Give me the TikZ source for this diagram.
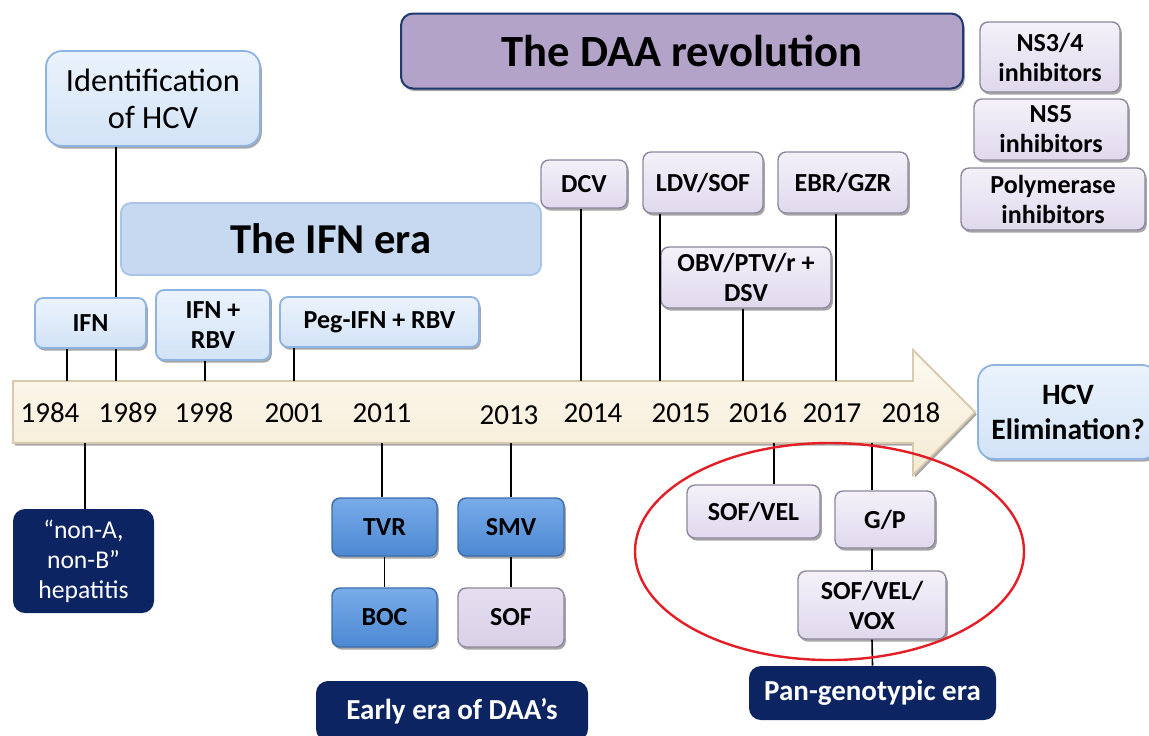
\documentclass[tikz,border=0pt]{standalone}
\usepackage{fontspec}
\setmainfont{Carlito}
\usetikzlibrary{shadows}

\definecolor{lbtop}{HTML}{EBF3FC}
\definecolor{lbbot}{HTML}{D2E3F6}
\definecolor{lbline}{HTML}{8DB3E2}
\definecolor{pptop}{HTML}{F4F1F9}
\definecolor{ppbot}{HTML}{E0D9ED}
\definecolor{ppline}{HTML}{8E889E}
\definecolor{sofpp}{HTML}{DAD0E8}
\definecolor{mbtop}{HTML}{78ACE9}
\definecolor{mbbot}{HTML}{4D88D2}
\definecolor{mbline}{HTML}{3B6DAA}
\definecolor{navy}{HTML}{0C2461}
\definecolor{daafill}{HTML}{B4A3C8}
\definecolor{daaline}{HTML}{1F3A6E}
\definecolor{erafill}{HTML}{C6D9F1}
\definecolor{eraline}{HTML}{A9C4E8}
\definecolor{arrtop}{HTML}{FEFAF1}
\definecolor{arrbot}{HTML}{F5EAD3}
\definecolor{arrline}{HTML}{D8CAAE}
\definecolor{ring}{HTML}{E41E26}

\begin{document}
\begin{tikzpicture}[x=0.5pt,y=-0.5pt,
        every node/.style={align=center,inner sep=1pt},
        sz/.style 2 args={minimum width=#1*0.5pt,minimum height=#2*0.5pt},
        shad/.style={drop shadow={shadow xshift=0.9pt,shadow yshift=-1.3pt,opacity=0.35,fill=black}},
        lbl/.style={font=\fontsize{13}{15}\selectfont\bfseries},
        bbox/.style={lbl,draw=lbline,line width=0.9pt,top color=lbtop,bottom color=lbbot,rounded corners=4pt,shad},
        pbox/.style={lbl,draw=ppline,line width=0.7pt,top color=pptop,bottom color=ppbot,rounded corners=4pt,shad},
        mbox/.style={lbl,draw=mbline,line width=0.7pt,top color=mbtop,bottom color=mbbot,rounded corners=4pt,shad},
        nbox/.style={fill=navy,text=white,rounded corners=6pt,font=\fontsize{14.5}{17}\selectfont\bfseries},
        yr/.style={font=\fontsize{14.5}{16}\selectfont},
        conn/.style={line width=0.8pt}]

    \useasboundingbox (0,0) rectangle (1149,735);

    \node[draw=daaline,fill=daafill,line width=1pt,rounded corners=6pt,shad,sz={562}{75},
          font=\fontsize{22.3}{26}\selectfont\bfseries] (daa) at (682,51) {The DAA revolution};
    \node[pbox,sz={140}{70}] (ns34) at (1050,57) {NS3/4\\inhibitors};
    \node[pbox,sz={154}{61}] (ns5) at (1051,129.5) {NS5\\inhibitors};
    \node[pbox,sz={184}{62}] (pol) at (1053,199) {Polymerase\\inhibitors};

    \node[bbox,sz={214}{95},rounded corners=8pt,font=\fontsize{16.2}{18.5}\selectfont] (ident) at (153,98.5) {Identification\\of HCV};
    \node[fill=erafill,draw=eraline,line width=0.9pt,rounded corners=5pt,sz={420}{72},
          font=\fontsize{21.3}{25}\selectfont\bfseries] (era) at (331,239) {The IFN era};
    \node[bbox,sz={111}{50}] (ifn) at (90.5,323) {IFN};
    \node[bbox,sz={114}{70}] (ifnrbv) at (213,325) {IFN +\\RBV};
    \node[bbox,sz={199}{50}] (peg) at (379.5,322) {Peg-IFN + RBV};

    \node[pbox,sz={86}{48}] (dcv) at (584,184) {DCV};
    \node[pbox,sz={120}{61}] (ldv) at (703,182.5) {LDV/SOF};
    \node[pbox,sz={130}{61}] (ebr) at (843,182.5) {EBR/GZR};
    \node[pbox,sz={170}{61}] (obv) at (746,277.5) {OBV/PTV/r +\\DSV};

    % time line
    \draw[draw=arrline,line width=0.9pt,top color=arrtop,bottom color=arrbot,shad]
        (13,381) -- (913,381) -- (913,350) -- (975,412) -- (913,475) -- (913,443) -- (13,443) -- cycle;
    \coordinate (u84) at (67,381);
    \coordinate (u89) at (116,381);
    \coordinate (u98) at (205,381);
    \coordinate (u01) at (294,381);
    \coordinate (u14) at (581,381);
    \coordinate (u15) at (660,381);
    \coordinate (u16) at (743,381);
    \coordinate (u17) at (836,381);
    \coordinate (d84) at (85,443);
    \coordinate (d11) at (382,443);
    \coordinate (d13) at (511,443);
    \coordinate (d16) at (774,443);
    \coordinate (d17) at (872,443);
    \foreach \yy/\xx/\ypos in {1984/50/413,1989/128/413,1998/204/413,2001/294/413,2011/382/413,
            2013/509/415,2014/593/413,2015/681/413,2016/758/413,2017/832/413,2018/911/413}
        \node[yr] (y\yy) at (\xx,\ypos) {\yy};

    \node[bbox,sz={180}{94},rounded corners=8pt,font=\fontsize{14.8}{17.5}\selectfont\bfseries] (elim) at (1068,412) {HCV\\Elimination?};

    \node[nbox,sz={141}{104},font=\fontsize{12.8}{15}\selectfont] (nonab) at (83.5,561) {“non-A,\\non-B”\\hepatitis};
    \node[mbox,sz={105}{58}] (tvr) at (384.5,527) {TVR};
    \node[mbox,sz={105}{59}] (boc) at (384.5,617.5) {BOC};
    \node[mbox,sz={106}{58}] (smv) at (511,527) {SMV};
    \node[pbox,sz={106}{59},top color=sofpp!70!white,bottom color=sofpp] (sof) at (511,617.5) {SOF};
    \node[nbox,sz={272}{60}] (early) at (452,711) {Early era of DAA’s};

    \node[pbox,sz={133}{53}] (sofvel) at (753.5,511.5) {SOF/VEL};
    \node[pbox,sz={100}{57}] (gp) at (885,519.5) {G/P};
    \node[pbox,sz={148}{68}] (vox) at (872,605) {SOF/VEL/\\VOX};
    \node[nbox,sz={247}{54}] (pan) at (872.5,693) {Pan-genotypic era};

    \draw[conn] (ident.south -| u89) -- (ifn.north -| u89);
    \draw[conn] (ifn.south -| u84) -- (u84);
    \draw[conn] (ifn.south -| u89) -- (u89);
    \draw[conn] (ifnrbv.south -| u98) -- (u98);
    \draw[conn] (peg.south -| u01) -- (u01);
    \draw[conn] (dcv.south -| u14) -- (u14);
    \draw[conn] (ldv.south -| u15) -- (u15);
    \draw[conn] (obv.south -| u16) -- (u16);
    \draw[conn] (ebr.south -| u17) -- (u17);
    \draw[conn] (d84) -- (nonab.north -| d84);
    \draw[conn] (d11) -- (tvr.north -| d11);
    \draw[conn] (tvr.south) -- (boc.north);
    \draw[conn] (d13) -- (smv.north -| d13);
    \draw[conn] (smv.south) -- (sof.north);
    \draw[conn] (d16) -- (sofvel.north -| d16);
    \draw[conn] (d17) -- (gp.north -| d17);
    \draw[conn] (gp.south -| vox.north) -- (vox.north);
    \draw[conn] (vox.south) -- (pan.north);

    \draw[ring,line width=1.2pt] (829.5,551.5) ellipse [x radius=194.5,y radius=108.5];
\end{tikzpicture}
\end{document}
